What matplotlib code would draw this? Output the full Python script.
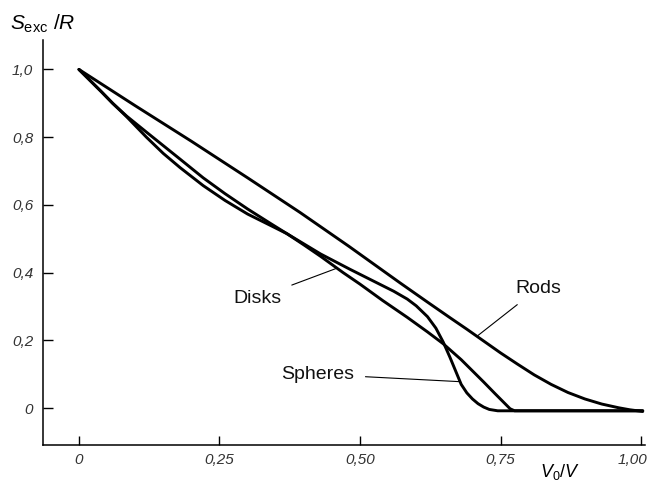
import numpy as np
import matplotlib
matplotlib.use("Agg")
import matplotlib.pyplot as plt
from matplotlib.transforms import ScaledTranslation

plt.rcParams["font.family"] = ["Liberation Sans", "DejaVu Sans"]
plt.rcParams["mathtext.fontset"] = "custom"
plt.rcParams["mathtext.rm"] = "Liberation Sans"
plt.rcParams["mathtext.it"] = "Liberation Sans:italic"

# ── Excess entropy vs. reduced volume, three particle shapes ──────────────────
rods_x = [0.0, 0.10, 0.20, 0.30, 0.393, 0.48, 0.571, 0.62, 0.66, 0.69, 0.72,
          0.75, 0.78, 0.81, 0.84, 0.87, 0.90, 0.93, 0.96, 0.98, 1.003]
rods_y = [1.0, 0.893, 0.788, 0.680, 0.578, 0.478, 0.370, 0.313, 0.267, 0.233,
          0.198, 0.163, 0.130, 0.098, 0.070, 0.046, 0.027, 0.012, 0.001, -0.005,
          -0.010]

disks_x = [0.0, 0.02, 0.04, 0.06, 0.085, 0.12, 0.15, 0.18, 0.221, 0.26, 0.30,
           0.34, 0.37, 0.40, 0.43, 0.47, 0.50, 0.54, 0.584, 0.62, 0.648, 0.68,
           0.70, 0.72, 0.74, 0.755, 0.767, 0.775, 1.003]
disks_y = [1.0, 0.967, 0.934, 0.900, 0.862, 0.815, 0.775, 0.735, 0.680, 0.633,
           0.588, 0.546, 0.515, 0.482, 0.448, 0.400, 0.366, 0.318, 0.268, 0.225,
           0.190, 0.143, 0.110, 0.077, 0.043, 0.018, -0.002, -0.008, -0.008]

spheres_x = [0.0, 0.02, 0.04, 0.06, 0.085, 0.12, 0.15, 0.18, 0.221, 0.26, 0.30,
             0.34, 0.37, 0.40, 0.43, 0.482, 0.53, 0.56, 0.584, 0.60, 0.62, 0.635,
             0.648, 0.66, 0.67, 0.68, 0.69, 0.70, 0.71, 0.72, 0.73, 0.745, 1.003]
spheres_y = [1.0, 0.967, 0.934, 0.900, 0.860, 0.800, 0.752, 0.710, 0.657, 0.613,
             0.573, 0.540, 0.515, 0.485, 0.455, 0.410, 0.370, 0.345, 0.322, 0.302,
             0.270, 0.236, 0.195, 0.150, 0.110, 0.070, 0.045, 0.027, 0.013, 0.003,
             -0.004, -0.008, -0.008]

x_ticks = [0.0, 0.25, 0.50, 0.75, 1.00]
x_tick_labels = ["0", "0,25", "0,50", "0,75", "1,00"]
y_ticks = [0.0, 0.2, 0.4, 0.6, 0.8, 1.0]
y_tick_labels = ["0", "0,2", "0,4", "0,6", "0,8", "1,0"]

curves = [
    ("Disks", disks_x, disks_y, 0.459, (0.317, 0.325)),
    ("Spheres", spheres_x, spheres_y, 0.678, (0.425, 0.100)),
    ("Rods", rods_x, rods_y, 0.708, (0.817, 0.354)),
]

fig = plt.figure(figsize=(6.51, 4.84), dpi=100)
ax = fig.add_axes([43 / 651, 39 / 484, 602 / 651, 405 / 484])

for name, xs, ys, x_leader, text_pos in curves:
    ax.plot(xs, ys, color="black", lw=2.1, solid_joinstyle="round",
            solid_capstyle="round")
    ax.annotate(name, xy=(x_leader, np.interp(x_leader, xs, ys)),
                xytext=text_pos, ha="center", va="center", fontsize=14,
                color="#111111",
                arrowprops=dict(arrowstyle="-", color="black", lw=0.8,
                                shrinkA=6, shrinkB=0))

ax.set_xlim(-0.064, 1.007)
ax.set_ylim(-0.109, 1.087)

for side in ("top", "right"):
    ax.spines[side].set_visible(False)
for side in ("left", "bottom"):
    ax.spines[side].set_linewidth(1.1)

ax.set_xticks(x_ticks)
ax.set_xticklabels(x_tick_labels, fontstyle="italic", fontsize=11, color="#333333")
ax.set_yticks(y_ticks)
ax.set_yticklabels(y_tick_labels, fontstyle="italic", fontsize=11, color="#333333")
ax.tick_params(axis="x", direction="in", length=6.5, width=1, pad=6)
ax.tick_params(axis="y", direction="in", length=7, width=1, pad=7)

# last x label sits a little left of its tick so it stays inside the figure
last = ax.get_xticklabels()[-1]
last.set_transform(last.get_transform()
                   + ScaledTranslation(-9 / 100, 0, fig.dpi_scale_trans))

fig.text(10 / 651, 1 - 30 / 484, r"$S_{\mathrm{exc}}\ /R$", fontsize=15,
         ha="left", va="baseline")
fig.text(540 / 651, 1 - 477 / 484, r"$V_0/V$", fontsize=13,
         ha="left", va="baseline")

fig.savefig("out.png", dpi=100)
